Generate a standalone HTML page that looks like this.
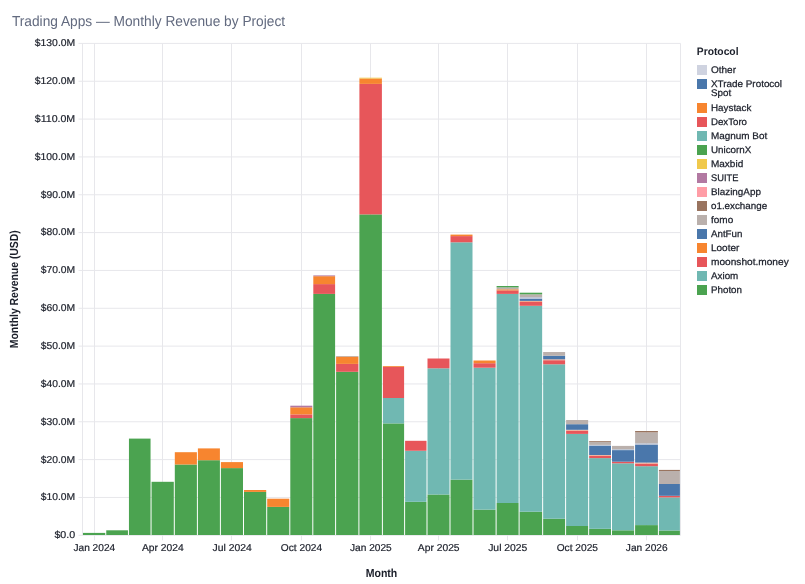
<!DOCTYPE html>
<html><head><meta charset="utf-8"><title>Trading Apps — Monthly Revenue by Project</title>
<style>
html,body{margin:0;padding:0;background:#fff;}
body{width:805px;height:584px;position:relative;overflow:hidden;font-family:"Liberation Sans",sans-serif;}
svg text{font-family:"Liberation Sans",sans-serif;text-rendering:geometricPrecision;}
.ax{font-size:10px;fill:#1b1f2a;stroke:#1b1f2a;stroke-width:0.2px;}
.at{font-size:11.7px;font-weight:bold;fill:#1b1f2a;}
.tt{font-size:14.5px;fill:#626a7f;}
.lt{font-size:10.9px;font-weight:bold;fill:#1b1f2a;}
.lg{font-size:9.6px;fill:#1b1f2a;stroke:#1b1f2a;stroke-width:0.25px;}
</style></head><body>
<svg width="805" height="584" viewBox="0 0 805 584" style="position:absolute;left:0;top:0;will-change:transform;opacity:0.999">
<line x1="78.5" x2="680.5" y1="535.30" y2="535.30" stroke="#e7e7eb" stroke-width="1"/>
<line x1="78.5" x2="680.5" y1="497.46" y2="497.46" stroke="#e7e7eb" stroke-width="1"/>
<line x1="78.5" x2="680.5" y1="459.62" y2="459.62" stroke="#e7e7eb" stroke-width="1"/>
<line x1="78.5" x2="680.5" y1="421.78" y2="421.78" stroke="#e7e7eb" stroke-width="1"/>
<line x1="78.5" x2="680.5" y1="383.95" y2="383.95" stroke="#e7e7eb" stroke-width="1"/>
<line x1="78.5" x2="680.5" y1="346.11" y2="346.11" stroke="#e7e7eb" stroke-width="1"/>
<line x1="78.5" x2="680.5" y1="308.27" y2="308.27" stroke="#e7e7eb" stroke-width="1"/>
<line x1="78.5" x2="680.5" y1="270.43" y2="270.43" stroke="#e7e7eb" stroke-width="1"/>
<line x1="78.5" x2="680.5" y1="232.59" y2="232.59" stroke="#e7e7eb" stroke-width="1"/>
<line x1="78.5" x2="680.5" y1="194.75" y2="194.75" stroke="#e7e7eb" stroke-width="1"/>
<line x1="78.5" x2="680.5" y1="156.92" y2="156.92" stroke="#e7e7eb" stroke-width="1"/>
<line x1="78.5" x2="680.5" y1="119.08" y2="119.08" stroke="#e7e7eb" stroke-width="1"/>
<line x1="78.5" x2="680.5" y1="81.24" y2="81.24" stroke="#e7e7eb" stroke-width="1"/>
<line x1="78.5" x2="680.5" y1="43.40" y2="43.40" stroke="#e7e7eb" stroke-width="1"/>
<line x1="94.50" x2="94.50" y1="43.40" y2="540.30" stroke="#e7e7eb" stroke-width="1"/>
<line x1="162.50" x2="162.50" y1="43.40" y2="540.30" stroke="#e7e7eb" stroke-width="1"/>
<line x1="231.50" x2="231.50" y1="43.40" y2="540.30" stroke="#e7e7eb" stroke-width="1"/>
<line x1="301.50" x2="301.50" y1="43.40" y2="540.30" stroke="#e7e7eb" stroke-width="1"/>
<line x1="370.50" x2="370.50" y1="43.40" y2="540.30" stroke="#e7e7eb" stroke-width="1"/>
<line x1="438.50" x2="438.50" y1="43.40" y2="540.30" stroke="#e7e7eb" stroke-width="1"/>
<line x1="507.50" x2="507.50" y1="43.40" y2="540.30" stroke="#e7e7eb" stroke-width="1"/>
<line x1="577.50" x2="577.50" y1="43.40" y2="540.30" stroke="#e7e7eb" stroke-width="1"/>
<line x1="646.50" x2="646.50" y1="43.40" y2="540.30" stroke="#e7e7eb" stroke-width="1"/>
<line x1="82.5" x2="82.5" y1="43.40" y2="535.30" stroke="#e7e7eb" stroke-width="1"/>
<line x1="680.5" x2="680.5" y1="43.40" y2="535.30" stroke="#e7e7eb" stroke-width="1"/>
<rect x="83.00" y="532.90" width="22.25" height="2.10" fill="#4ba350"/>
<rect x="106.25" y="530.30" width="21.70" height="4.70" fill="#4ba350"/>
<rect x="128.95" y="438.60" width="21.60" height="96.40" fill="#4ba350"/>
<rect x="151.55" y="481.80" width="22.25" height="53.20" fill="#4ba350"/>
<rect x="174.80" y="464.50" width="22.10" height="70.50" fill="#4ba350"/>
<rect x="174.80" y="452.20" width="22.10" height="12.30" fill="#f7852f"/>
<rect x="197.90" y="460.20" width="22.00" height="74.80" fill="#4ba350"/>
<rect x="197.90" y="448.40" width="22.00" height="11.80" fill="#f7852f"/>
<rect x="220.90" y="468.10" width="22.10" height="66.90" fill="#4ba350"/>
<rect x="220.90" y="462.10" width="22.10" height="6.00" fill="#f7852f"/>
<rect x="244.00" y="491.90" width="22.20" height="43.10" fill="#4ba350"/>
<rect x="244.00" y="490.00" width="22.20" height="1.90" fill="#f7852f"/>
<rect x="267.20" y="506.90" width="22.10" height="28.10" fill="#4ba350"/>
<rect x="267.20" y="498.70" width="22.10" height="8.20" fill="#f7852f"/>
<rect x="290.30" y="418.10" width="22.00" height="116.90" fill="#4ba350"/>
<rect x="290.30" y="414.40" width="22.00" height="3.70" fill="#e7565a"/>
<rect x="290.30" y="407.30" width="22.00" height="7.10" fill="#f7852f"/>
<rect x="290.30" y="405.70" width="22.00" height="1.60" fill="#b279a2"/>
<rect x="313.30" y="293.90" width="21.80" height="241.10" fill="#4ba350"/>
<rect x="313.30" y="284.10" width="21.80" height="9.80" fill="#e7565a"/>
<rect x="313.30" y="276.20" width="21.80" height="7.90" fill="#f7852f"/>
<rect x="313.30" y="275.40" width="21.80" height="0.80" fill="#b279a2"/>
<rect x="336.10" y="371.80" width="22.30" height="163.20" fill="#4ba350"/>
<rect x="336.10" y="363.90" width="22.30" height="7.90" fill="#e7565a"/>
<rect x="336.10" y="356.90" width="22.30" height="7.00" fill="#f7852f"/>
<rect x="336.10" y="356.40" width="22.30" height="0.50" fill="#99745f"/>
<rect x="359.40" y="214.40" width="22.50" height="320.60" fill="#4ba350"/>
<rect x="359.40" y="83.90" width="22.50" height="130.50" fill="#e7565a"/>
<rect x="359.40" y="78.50" width="22.50" height="5.40" fill="#f7852f"/>
<rect x="359.40" y="77.70" width="22.50" height="0.80" fill="#f0c94c"/>
<rect x="382.90" y="423.40" width="21.20" height="111.60" fill="#4ba350"/>
<rect x="382.90" y="398.00" width="21.20" height="25.40" fill="#70b8b2"/>
<rect x="382.90" y="366.80" width="21.20" height="31.20" fill="#e7565a"/>
<rect x="382.90" y="366.00" width="21.20" height="0.80" fill="#f7852f"/>
<rect x="405.10" y="501.80" width="21.40" height="33.20" fill="#4ba350"/>
<rect x="405.10" y="450.75" width="21.40" height="51.05" fill="#70b8b2"/>
<rect x="405.10" y="440.80" width="21.40" height="9.95" fill="#e7565a"/>
<rect x="427.50" y="494.50" width="22.00" height="40.50" fill="#4ba350"/>
<rect x="427.50" y="368.30" width="22.00" height="126.20" fill="#70b8b2"/>
<rect x="427.50" y="358.50" width="22.00" height="9.80" fill="#e7565a"/>
<rect x="450.50" y="479.60" width="22.00" height="55.40" fill="#4ba350"/>
<rect x="450.50" y="242.30" width="22.00" height="237.30" fill="#70b8b2"/>
<rect x="450.50" y="236.10" width="22.00" height="6.20" fill="#e7565a"/>
<rect x="450.50" y="234.60" width="22.00" height="1.50" fill="#f7852f"/>
<rect x="473.50" y="509.60" width="22.10" height="25.40" fill="#4ba350"/>
<rect x="473.50" y="367.70" width="22.10" height="141.90" fill="#70b8b2"/>
<rect x="473.50" y="363.20" width="22.10" height="4.50" fill="#e7565a"/>
<rect x="473.50" y="360.50" width="22.10" height="2.70" fill="#f7852f"/>
<rect x="496.60" y="503.00" width="22.00" height="32.00" fill="#4ba350"/>
<rect x="496.60" y="293.90" width="22.00" height="209.10" fill="#70b8b2"/>
<rect x="496.60" y="290.40" width="22.00" height="3.50" fill="#e7565a"/>
<rect x="496.60" y="289.30" width="22.00" height="1.10" fill="#f7852f"/>
<rect x="496.60" y="287.40" width="22.00" height="1.90" fill="#bab0ac"/>
<rect x="496.60" y="286.00" width="22.00" height="1.40" fill="#4ba350"/>
<rect x="519.60" y="511.70" width="22.55" height="23.30" fill="#4ba350"/>
<rect x="519.60" y="305.80" width="22.55" height="205.90" fill="#70b8b2"/>
<rect x="519.60" y="302.00" width="22.55" height="3.80" fill="#e7565a"/>
<rect x="519.60" y="300.90" width="22.55" height="1.10" fill="#efa98f"/>
<rect x="519.60" y="298.70" width="22.55" height="2.20" fill="#4a77ab"/>
<rect x="519.60" y="297.20" width="22.55" height="1.50" fill="#b4c0d4"/>
<rect x="519.60" y="294.30" width="22.55" height="2.90" fill="#bab0ac"/>
<rect x="519.60" y="292.70" width="22.55" height="1.60" fill="#4ba350"/>
<rect x="543.15" y="518.70" width="21.95" height="16.30" fill="#4ba350"/>
<rect x="543.15" y="364.30" width="21.95" height="154.40" fill="#70b8b2"/>
<rect x="543.15" y="360.20" width="21.95" height="4.10" fill="#e7565a"/>
<rect x="543.15" y="359.30" width="21.95" height="0.90" fill="#efa98f"/>
<rect x="543.15" y="355.70" width="21.95" height="3.60" fill="#4a77ab"/>
<rect x="543.15" y="352.00" width="21.95" height="3.70" fill="#bab0ac"/>
<rect x="566.10" y="526.00" width="22.05" height="9.00" fill="#4ba350"/>
<rect x="566.10" y="433.90" width="22.05" height="92.10" fill="#70b8b2"/>
<rect x="566.10" y="430.70" width="22.05" height="3.20" fill="#e7565a"/>
<rect x="566.10" y="429.80" width="22.05" height="0.90" fill="#efa98f"/>
<rect x="566.10" y="424.20" width="22.05" height="5.60" fill="#4a77ab"/>
<rect x="566.10" y="420.00" width="22.05" height="4.20" fill="#bab0ac"/>
<rect x="589.15" y="528.80" width="21.85" height="6.20" fill="#4ba350"/>
<rect x="589.15" y="458.10" width="21.85" height="70.70" fill="#70b8b2"/>
<rect x="589.15" y="455.70" width="21.85" height="2.40" fill="#e7565a"/>
<rect x="589.15" y="455.00" width="21.85" height="0.70" fill="#efa98f"/>
<rect x="589.15" y="445.90" width="21.85" height="9.10" fill="#4a77ab"/>
<rect x="589.15" y="444.90" width="21.85" height="1.00" fill="#b4c0d4"/>
<rect x="589.15" y="441.80" width="21.85" height="3.10" fill="#bab0ac"/>
<rect x="589.15" y="441.00" width="21.85" height="0.80" fill="#99745f"/>
<rect x="612.00" y="530.30" width="22.10" height="4.70" fill="#4ba350"/>
<rect x="612.00" y="463.30" width="22.10" height="67.00" fill="#70b8b2"/>
<rect x="612.00" y="461.70" width="22.10" height="1.60" fill="#e7565a"/>
<rect x="612.00" y="450.10" width="22.10" height="11.60" fill="#4a77ab"/>
<rect x="612.00" y="449.20" width="22.10" height="0.90" fill="#b4c0d4"/>
<rect x="612.00" y="445.90" width="22.10" height="3.30" fill="#bab0ac"/>
<rect x="635.10" y="525.10" width="22.80" height="9.90" fill="#4ba350"/>
<rect x="635.10" y="466.20" width="22.80" height="58.90" fill="#70b8b2"/>
<rect x="635.10" y="463.60" width="22.80" height="2.60" fill="#e7565a"/>
<rect x="635.10" y="462.60" width="22.80" height="1.00" fill="#efa98f"/>
<rect x="635.10" y="445.00" width="22.80" height="17.60" fill="#4a77ab"/>
<rect x="635.10" y="443.30" width="22.80" height="1.70" fill="#b4c0d4"/>
<rect x="635.10" y="432.40" width="22.80" height="10.90" fill="#bab0ac"/>
<rect x="635.10" y="431.00" width="22.80" height="1.40" fill="#99745f"/>
<rect x="658.90" y="530.50" width="21.00" height="4.50" fill="#4ba350"/>
<rect x="658.90" y="497.40" width="21.00" height="33.10" fill="#70b8b2"/>
<rect x="658.90" y="495.80" width="21.00" height="1.60" fill="#e7565a"/>
<rect x="658.90" y="484.00" width="21.00" height="11.80" fill="#4a77ab"/>
<rect x="658.90" y="471.00" width="21.00" height="13.00" fill="#bab0ac"/>
<rect x="658.90" y="469.90" width="21.00" height="1.10" fill="#99745f"/>
<text x="54.4" y="538.20" textLength="20.8" lengthAdjust="spacingAndGlyphs" class="ax">$0.0</text>
<text x="40.8" y="500.36" textLength="34.4" lengthAdjust="spacingAndGlyphs" class="ax">$10.0M</text>
<text x="40.8" y="462.52" textLength="34.4" lengthAdjust="spacingAndGlyphs" class="ax">$20.0M</text>
<text x="40.8" y="424.68" textLength="34.4" lengthAdjust="spacingAndGlyphs" class="ax">$30.0M</text>
<text x="40.8" y="386.85" textLength="34.4" lengthAdjust="spacingAndGlyphs" class="ax">$40.0M</text>
<text x="40.8" y="349.01" textLength="34.4" lengthAdjust="spacingAndGlyphs" class="ax">$50.0M</text>
<text x="40.8" y="311.17" textLength="34.4" lengthAdjust="spacingAndGlyphs" class="ax">$60.0M</text>
<text x="40.8" y="273.33" textLength="34.4" lengthAdjust="spacingAndGlyphs" class="ax">$70.0M</text>
<text x="40.8" y="235.49" textLength="34.4" lengthAdjust="spacingAndGlyphs" class="ax">$80.0M</text>
<text x="40.8" y="197.65" textLength="34.4" lengthAdjust="spacingAndGlyphs" class="ax">$90.0M</text>
<text x="34.8" y="159.82" textLength="40.4" lengthAdjust="spacingAndGlyphs" class="ax">$100.0M</text>
<text x="34.8" y="121.98" textLength="40.4" lengthAdjust="spacingAndGlyphs" class="ax">$110.0M</text>
<text x="34.8" y="84.14" textLength="40.4" lengthAdjust="spacingAndGlyphs" class="ax">$120.0M</text>
<text x="34.8" y="46.30" textLength="40.4" lengthAdjust="spacingAndGlyphs" class="ax">$130.0M</text>
<text x="73.48" y="550.7" textLength="41.7" lengthAdjust="spacingAndGlyphs" class="ax">Jan 2024</text>
<text x="141.97" y="550.7" textLength="41.8" lengthAdjust="spacingAndGlyphs" class="ax">Apr 2024</text>
<text x="212.55" y="550.7" textLength="39.2" lengthAdjust="spacingAndGlyphs" class="ax">Jul 2024</text>
<text x="280.85" y="550.7" textLength="41.3" lengthAdjust="spacingAndGlyphs" class="ax">Oct 2024</text>
<text x="350.00" y="550.7" textLength="41.7" lengthAdjust="spacingAndGlyphs" class="ax">Jan 2025</text>
<text x="417.80" y="550.7" textLength="41.8" lengthAdjust="spacingAndGlyphs" class="ax">Apr 2025</text>
<text x="488.20" y="550.7" textLength="39.2" lengthAdjust="spacingAndGlyphs" class="ax">Jul 2025</text>
<text x="556.68" y="550.7" textLength="41.3" lengthAdjust="spacingAndGlyphs" class="ax">Oct 2025</text>
<text x="625.85" y="550.7" textLength="41.7" lengthAdjust="spacingAndGlyphs" class="ax">Jan 2026</text>
<text x="365.7" y="576.8" textLength="31.6" lengthAdjust="spacingAndGlyphs" class="at">Month</text>
<text transform="translate(17.5,348.2) rotate(-90)" textLength="118" lengthAdjust="spacingAndGlyphs" class="at">Monthly Revenue (USD)</text>
<text x="11.9" y="25.7" textLength="273.2" lengthAdjust="spacingAndGlyphs" class="tt">Trading Apps — Monthly Revenue by Project</text>
<text x="696.8" y="54.8" textLength="41.7" lengthAdjust="spacingAndGlyphs" class="lt">Protocol</text>
<rect x="697" y="65" width="10" height="10" fill="#cfd3e0"/>
<text x="711" y="72.5" textLength="25.0" lengthAdjust="spacingAndGlyphs" class="lg">Other</text>
<rect x="697" y="79" width="10" height="10" fill="#4a77ab"/>
<text x="711" y="86.5" textLength="71.0" lengthAdjust="spacingAndGlyphs" class="lg">XTrade Protocol</text>
<text x="711" y="96.1" textLength="20.2" lengthAdjust="spacingAndGlyphs" class="lg">Spot</text>
<rect x="697" y="103" width="10" height="10" fill="#f7852f"/>
<text x="711" y="110.5" textLength="40.4" lengthAdjust="spacingAndGlyphs" class="lg">Haystack</text>
<rect x="697" y="117" width="10" height="10" fill="#e7565a"/>
<text x="711" y="124.5" textLength="36.0" lengthAdjust="spacingAndGlyphs" class="lg">DexToro</text>
<rect x="697" y="131" width="10" height="10" fill="#70b8b2"/>
<text x="711" y="138.5" textLength="56.2" lengthAdjust="spacingAndGlyphs" class="lg">Magnum Bot</text>
<rect x="697" y="145" width="10" height="10" fill="#4ba350"/>
<text x="711" y="152.5" textLength="40.3" lengthAdjust="spacingAndGlyphs" class="lg">UnicornX</text>
<rect x="697" y="159" width="10" height="10" fill="#f0c94c"/>
<text x="711" y="166.5" textLength="32.2" lengthAdjust="spacingAndGlyphs" class="lg">Maxbid</text>
<rect x="697" y="173" width="10" height="10" fill="#b279a2"/>
<text x="711" y="180.5" textLength="27.4" lengthAdjust="spacingAndGlyphs" class="lg">SUITE</text>
<rect x="697" y="187" width="10" height="10" fill="#ff9da6"/>
<text x="711" y="194.5" textLength="49.9" lengthAdjust="spacingAndGlyphs" class="lg">BlazingApp</text>
<rect x="697" y="201" width="10" height="10" fill="#99745f"/>
<text x="711" y="208.5" textLength="56.1" lengthAdjust="spacingAndGlyphs" class="lg">o1.exchange</text>
<rect x="697" y="215" width="10" height="10" fill="#bab0ac"/>
<text x="711" y="222.5" textLength="22.2" lengthAdjust="spacingAndGlyphs" class="lg">fomo</text>
<rect x="697" y="229" width="10" height="10" fill="#4a77ab"/>
<text x="711" y="236.5" textLength="31.4" lengthAdjust="spacingAndGlyphs" class="lg">AntFun</text>
<rect x="697" y="243" width="10" height="10" fill="#f7852f"/>
<text x="711" y="250.5" textLength="28.3" lengthAdjust="spacingAndGlyphs" class="lg">Looter</text>
<rect x="697" y="257" width="10" height="10" fill="#e7565a"/>
<text x="711" y="264.5" textLength="77.7" lengthAdjust="spacingAndGlyphs" class="lg">moonshot.money</text>
<rect x="697" y="271" width="10" height="10" fill="#70b8b2"/>
<text x="711" y="278.5" textLength="27.3" lengthAdjust="spacingAndGlyphs" class="lg">Axiom</text>
<rect x="697" y="285" width="10" height="10" fill="#4ba350"/>
<text x="711" y="292.5" textLength="31.0" lengthAdjust="spacingAndGlyphs" class="lg">Photon</text>
</svg>
</body></html>
